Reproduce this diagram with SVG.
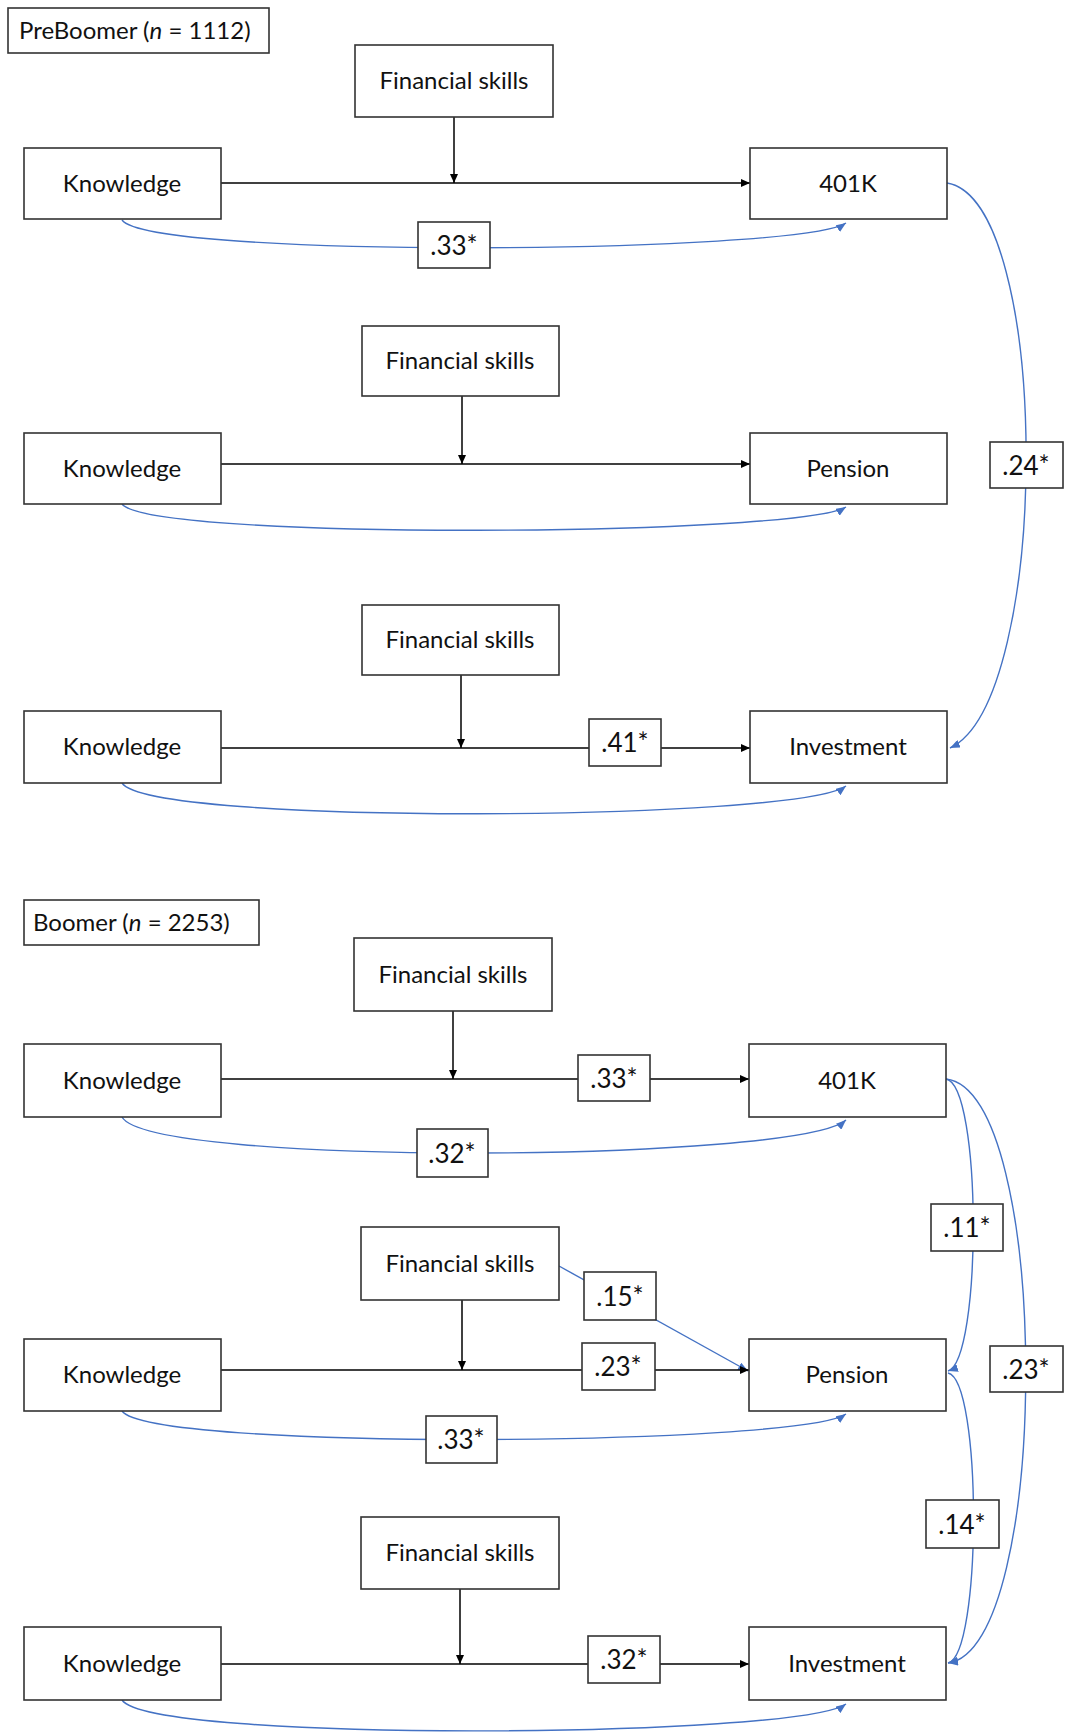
<svg xmlns="http://www.w3.org/2000/svg" width="1065" height="1733" viewBox="0 0 1065 1733">
<defs>
<marker id="ab" markerUnits="userSpaceOnUse" markerWidth="9" markerHeight="8" refX="9" refY="4" orient="auto"><path d="M0,0 L9,4 L0,8 z" fill="#000"/></marker>
<marker id="abl" markerUnits="userSpaceOnUse" markerWidth="10" markerHeight="8" refX="10" refY="4" orient="auto"><path d="M0,0 L10,4 L0,8 z" fill="#4472C4"/></marker>
<style>
.box{fill:#fff;stroke:#333;stroke-width:1.6}
.t{font-family:Lato,"Liberation Sans",sans-serif;font-size:24px;fill:#111;text-anchor:middle}
.n{font-size:26px}
.tl{font-family:Lato,"Liberation Sans",sans-serif;font-size:24px;fill:#111}
.ln{stroke:#000;stroke-width:1.5;fill:none;marker-end:url(#ab)}
.bl{stroke:#4472C4;stroke-width:1.4;fill:none;marker-end:url(#abl)}
</style>
</defs>
<rect width="1065" height="1733" fill="#fff"/>
<g id="connectors">
<path class="ln" d="M221,183 H750"/>
<path class="ln" d="M454,117 V183"/>
<path class="bl" d="M122,220 C150,259 800,254 846,223"/>
<path class="ln" d="M221,464 H750"/>
<path class="ln" d="M462,396 V464"/>
<path class="bl" d="M122,504 C150,541 800,536 846,507"/>
<path class="ln" d="M221,748 H750"/>
<path class="ln" d="M461,675 V748"/>
<path class="bl" d="M122,783 C150,826 800,821 846,786"/>
<path class="bl" d="M947,183 C1052,200 1052,700 950,748"/>
<path class="ln" d="M221,1079 H749"/>
<path class="ln" d="M453,1011 V1079"/>
<path class="bl" d="M122,1117 C150,1167 800,1162 846,1120"/>
<path class="bl" d="M559,1266 L748,1371"/>
<path class="ln" d="M221,1370 H749"/>
<path class="ln" d="M462,1300 V1370"/>
<path class="bl" d="M122,1411 C150,1451 800,1446 846,1414"/>
<path class="ln" d="M221,1664 H749"/>
<path class="ln" d="M460,1589 V1664"/>
<path class="bl" d="M122,1700 C150,1743 800,1738 846,1704"/>
<path class="bl" d="M946,1079 C982,1085 982,1360 948,1371"/>
<path class="bl" d="M946,1079 C1052,1090 1052,1650 948,1663"/>
<path class="bl" d="M948,1373 C982,1380 982,1655 948,1663"/>
</g>
<g id="labels">
<g id="l1"><rect class="box" x="418" y="222" width="72" height="46"/><text class="t n" x="454" y="255">.33*</text></g>
<g id="l2"><rect class="box" x="589" y="719" width="72" height="47"/><text class="t n" x="625" y="752">.41*</text></g>
<g id="l3"><rect class="box" x="990" y="442" width="73" height="46"/><text class="t n" x="1026" y="475">.24*</text></g>
<g id="l4"><rect class="box" x="578" y="1055" width="72" height="46"/><text class="t n" x="614" y="1088">.33*</text></g>
<g id="l5"><rect class="box" x="417" y="1129" width="71" height="48"/><text class="t n" x="452" y="1163">.32*</text></g>
<g id="l6"><rect class="box" x="584" y="1272" width="72" height="48"/><text class="t n" x="620" y="1306">.15*</text></g>
<g id="l7"><rect class="box" x="582" y="1343" width="73" height="47"/><text class="t n" x="618" y="1376">.23*</text></g>
<g id="l8"><rect class="box" x="426" y="1416" width="71" height="47"/><text class="t n" x="461" y="1449">.33*</text></g>
<g id="l9"><rect class="box" x="931" y="1204" width="72" height="47"/><text class="t n" x="967" y="1237">.11*</text></g>
<g id="l10"><rect class="box" x="990" y="1346" width="73" height="46"/><text class="t n" x="1026" y="1379">.23*</text></g>
<g id="l11"><rect class="box" x="926" y="1500" width="73" height="48"/><text class="t n" x="962" y="1534">.14*</text></g>
<g id="l12"><rect class="box" x="588" y="1636" width="72" height="47"/><text class="t n" x="624" y="1669">.32*</text></g>
</g>
<g id="title1"><rect class="box" x="8" y="8" width="261" height="45"/><text class="tl" x="19" y="39">PreBoomer (<tspan font-style="italic">n</tspan> = 1112)</text></g>
<g id="fs1"><rect class="box" x="355" y="45" width="198" height="72"/><text class="t" x="454" y="89">Financial skills</text></g>
<g id="k1"><rect class="box" x="24" y="148" width="197" height="71"/><text class="t" x="122" y="192">Knowledge</text></g>
<g id="k401a"><rect class="box" x="750" y="148" width="197" height="71"/><text class="t" x="848" y="192">401K</text></g>
<g id="fs2"><rect class="box" x="362" y="326" width="197" height="70"/><text class="t" x="460" y="369">Financial skills</text></g>
<g id="k2"><rect class="box" x="24" y="433" width="197" height="71"/><text class="t" x="122" y="477">Knowledge</text></g>
<g id="pension1"><rect class="box" x="750" y="433" width="197" height="71"/><text class="t" x="848" y="477">Pension</text></g>
<g id="fs3"><rect class="box" x="362" y="605" width="197" height="70"/><text class="t" x="460" y="648">Financial skills</text></g>
<g id="k3"><rect class="box" x="24" y="711" width="197" height="72"/><text class="t" x="122" y="755">Knowledge</text></g>
<g id="invest1"><rect class="box" x="750" y="711" width="197" height="72"/><text class="t" x="848" y="755">Investment</text></g>
<g id="title2"><rect class="box" x="24" y="900" width="235" height="45"/><text class="tl" x="33" y="931">Boomer (<tspan font-style="italic">n</tspan> = 2253)</text></g>
<g id="fs4"><rect class="box" x="354" y="938" width="198" height="73"/><text class="t" x="453" y="983">Financial skills</text></g>
<g id="k4"><rect class="box" x="24" y="1044" width="197" height="73"/><text class="t" x="122" y="1089">Knowledge</text></g>
<g id="k401b"><rect class="box" x="749" y="1044" width="197" height="73"/><text class="t" x="847" y="1089">401K</text></g>
<g id="fs5"><rect class="box" x="361" y="1227" width="198" height="73"/><text class="t" x="460" y="1272">Financial skills</text></g>
<g id="k5"><rect class="box" x="24" y="1339" width="197" height="72"/><text class="t" x="122" y="1383">Knowledge</text></g>
<g id="pension2"><rect class="box" x="749" y="1339" width="197" height="72"/><text class="t" x="847" y="1383">Pension</text></g>
<g id="fs6"><rect class="box" x="361" y="1517" width="198" height="72"/><text class="t" x="460" y="1561">Financial skills</text></g>
<g id="k6"><rect class="box" x="24" y="1627" width="197" height="73"/><text class="t" x="122" y="1672">Knowledge</text></g>
<g id="invest2"><rect class="box" x="749" y="1627" width="197" height="73"/><text class="t" x="847" y="1672">Investment</text></g>
</svg>
